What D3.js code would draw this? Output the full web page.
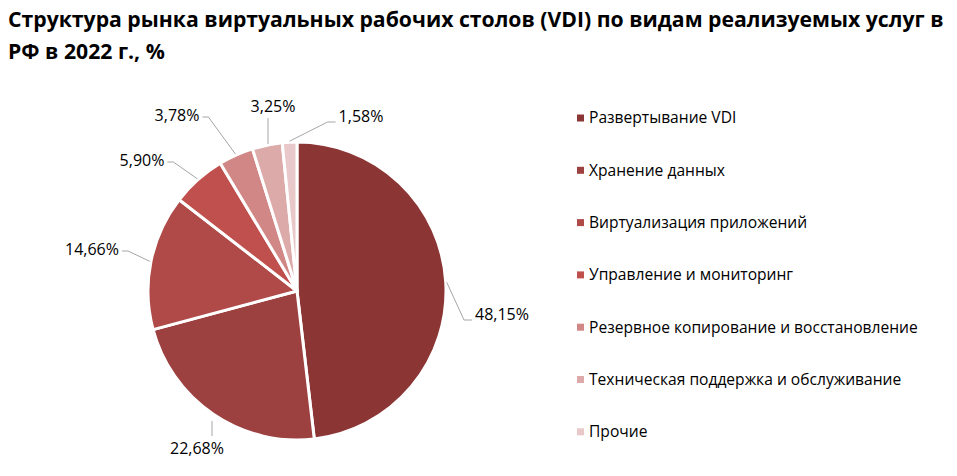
<!DOCTYPE html>
<html>
<head>
<meta charset="utf-8">
<script src="https://cdn.jsdelivr.net/npm/d3@7"></script>
<style>
  html, body { margin: 0; padding: 0; background: #fff; }
  svg { display: block; }
  text { font-family: "Open Sans", "Liberation Sans", sans-serif; }
</style>
</head>
<body>
<svg id="chart" width="957" height="476"></svg>
<script>
// ---- data ----
const categories = [
  "Развертывание VDI",
  "Хранение данных",
  "Виртуализация приложений",
  "Управление и мониторинг",
  "Резервное копирование и восстановление",
  "Техническая поддержка и обслуживание",
  "Прочие"
];
const values = [48.15, 22.68, 14.66, 5.90, 3.78, 3.25, 1.58];
const valueLabels = ["48,15%", "22,68%", "14,66%", "5,90%", "3,78%", "3,25%", "1,58%"];
const colors = ["#8b3635", "#9c4140", "#b04a48", "#c0504d", "#d08785", "#dbaaa9", "#e8c8c8"];
const titleLines = ["Структура рынка виртуальных рабочих столов (VDI) по видам реализуемых услуг в", "РФ в 2022 г., %"];

// ---- layout (label placement relative to pie centre, px) ----
const labelPos = [[205, 23], [-100, 157], [-205, -42], [-155, -131], [-120, -176], [-24, -185], [64, -175]];
const labelSide = ["right", "top", "left", "left", "left", "bottom", "right"];

const svg = d3.select("#chart");
const cx = 297, cy = 291, r = 149;

// title
const title = svg.append("text")
  .attr("x", 8).attr("y", 26)
  .style("font-family", "'Open Sans', sans-serif")
  .style("font-weight", "700")
  .style("font-size", "20px")
  .attr("fill", "#000");
titleLines.forEach((t, i) => {
  title.append("tspan").attr("x", 8).attr("y", 27 + i * 32).text(t);
});
const firstTs = title.select("tspan").node();
const w0 = firstTs.getComputedTextLength();
const fs = 20 * 936 / w0;
title.style("font-size", fs.toFixed(2) + "px");

const pie = d3.pie().sort(null).value(d => d)(values);
const arc = d3.arc().innerRadius(0).outerRadius(r);

const g = svg.append("g").attr("transform", `translate(${cx},${cy})`);
g.selectAll("path.slice")
  .data(pie)
  .join("path")
  .attr("class", "slice")
  .attr("d", arc)
  .attr("fill", (d, i) => colors[i])
  .attr("stroke", "#fff")
  .attr("stroke-width", 3)
  .attr("stroke-linejoin", "round");

// labels
const lblFont = 16;
const labels = g.selectAll("text.lbl")
  .data(pie)
  .join("text")
  .attr("class", "lbl")
  .attr("x", (d, i) => labelPos[i][0])
  .attr("y", (d, i) => labelPos[i][1])
  .attr("dy", "0.35em")
  .attr("text-anchor", "middle")
  .style("font-size", lblFont + "px")
  .attr("fill", "#000")
  .text((d, i) => valueLabels[i]);

// leader lines
labels.each(function(d, i) {
  const w = this.getComputedTextLength();
  const mid = (d.startAngle + d.endAngle) / 2;
  const p0 = [Math.sin(mid) * (r + 1), -Math.cos(mid) * (r + 1)];
  const [lx, ly] = labelPos[i];
  let pts;
  const side = labelSide[i];
  if (side === "right") {
    const ax = lx - w / 2 - 3;
    pts = [p0, [ax - 8, ly + 6], [ax, ly + 6]];
  } else if (side === "left") {
    const ax = lx + w / 2 + 3;
    pts = [p0, [ax + 6, ly + 2], [ax, ly + 2]];
  } else if (side === "top") {
    pts = [[lx + 15, p0[1] + 6], [lx + 15, ly - 12]];
  } else {
    pts = [[lx - 5, p0[1]], [lx - 5, ly + 12]];
  }
  g.append("path")
    .attr("d", d3.line()(pts))
    .attr("fill", "none")
    .attr("stroke", "#a6a6a6")
    .attr("stroke-width", 1);
});

// legend
const legend = svg.append("g").attr("transform", "translate(577,118)");
const item = legend.selectAll("g.item")
  .data(categories)
  .join("g")
  .attr("class", "item")
  .attr("transform", (d, i) => `translate(0,${i * 52.3})`);
item.append("rect")
  .attr("x", 0).attr("y", -3.5)
  .attr("width", 7).attr("height", 7)
  .attr("fill", (d, i) => colors[i]);
item.append("text")
  .attr("x", 12).attr("y", 0)
  .attr("dy", "0.35em")
  .style("font-size", "15.6px")
  .attr("fill", "#000")
  .text(d => d);
</script>
</body>
</html>
